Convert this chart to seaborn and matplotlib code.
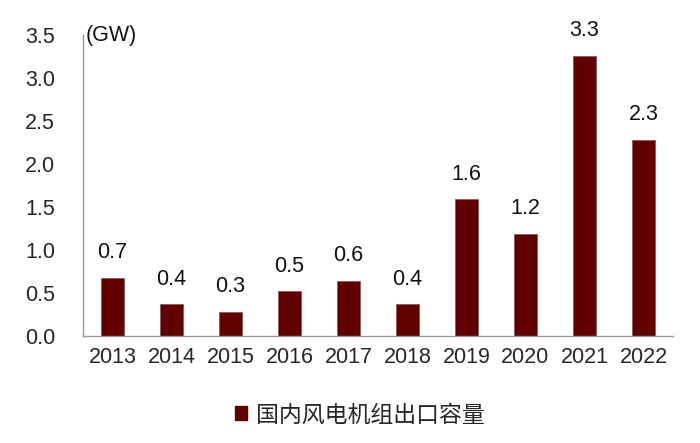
import matplotlib
matplotlib.use("Agg")
import matplotlib.pyplot as plt
import seaborn as sns
import pandas as pd
from matplotlib.patches import Patch

years = ["2013", "2014", "2015", "2016", "2017", "2018", "2019", "2020", "2021", "2022"]
values = [0.68, 0.37, 0.28, 0.52, 0.64, 0.37, 1.59, 1.19, 3.26, 2.28]
labels = ["0.7", "0.4", "0.3", "0.5", "0.6", "0.4", "1.6", "1.2", "3.3", "2.3"]
series_name = "国内风电机组出口容量"
unit = "(GW)"
yticks = [0.0, 0.5, 1.0, 1.5, 2.0, 2.5, 3.0, 3.5]

sns.set_style("white")
plt.rcParams['font.family'] = ['Liberation Sans', 'Noto Sans CJK SC', 'DejaVu Sans']

color = "#620000"
fs = 15.5
df = pd.DataFrame({"year": years, "value": values})

fig = plt.figure(figsize=(7, 4.43), dpi=100)
ax = fig.add_axes([83/700, 1-336/443, (673-83)/700, (336-35)/443])
sns.barplot(data=df, x="year", y="value", color=color, width=0.4,
            saturation=1, ax=ax, edgecolor="#8a5a5a", linewidth=0.6)

ax.set_ylim(0, 3.5)
ax.set_xlim(-0.5, len(years) - 0.5)
ax.set_yticks(yticks)
ax.set_yticklabels([f"{t:.1f}" for t in yticks], fontsize=fs)
ax.tick_params(axis='y', length=0, pad=20)
ax.tick_params(axis='x', which='major', length=0, pad=8, labelsize=fs)
ax.set_xticks([i - 0.5 for i in range(len(years) + 1)], minor=True)
ax.tick_params(axis='x', which='minor', length=6, color="#999999", width=1, direction='out')
ax.set_xlabel("")
ax.set_ylabel("")

for s in ["top", "right"]:
    ax.spines[s].set_visible(False)
for s in ["left", "bottom"]:
    ax.spines[s].set_color("#999999")
    ax.spines[s].set_linewidth(1)

for i, (v, lab) in enumerate(zip(values, labels)):
    ax.annotate(lab, (i, v), xytext=(0, 10.5), textcoords="offset points",
                ha="center", va="bottom", fontsize=fs, color="#111111")

ax.text(0.005, 3.5, unit, transform=ax.get_yaxis_transform(), ha="left", va="center",
        fontsize=fs, color="#111111")

handles = [Patch(facecolor=color, edgecolor=color, label=series_name)]
fig.legend(handles=handles, loc="center", bbox_to_anchor=(0.514, 1-415/443), frameon=False,
           handlelength=0.55, handleheight=0.55, handletextpad=0.4,
           prop={'family': ['Noto Sans CJK SC', 'DejaVu Sans'], 'size': 16.5})

fig.savefig("out.png", dpi=100)
